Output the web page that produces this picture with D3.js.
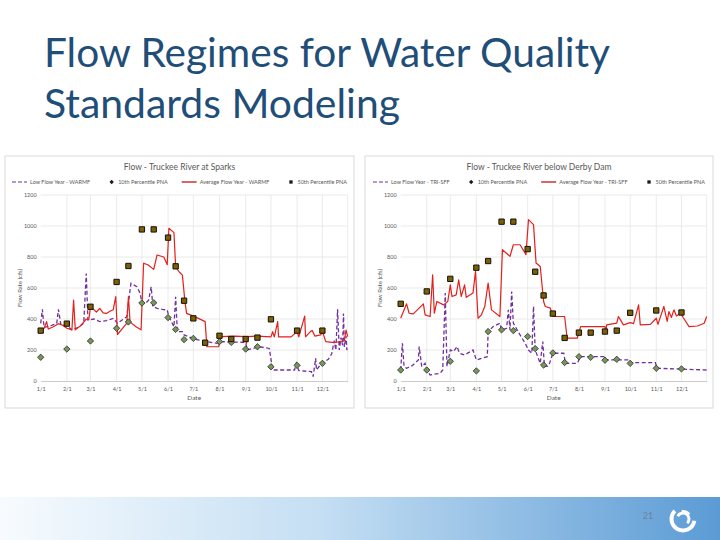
<!DOCTYPE html>
<html><head><meta charset="utf-8">
<script src="https://cdn.jsdelivr.net/npm/d3@7"></script>
<style>html,body{margin:0;padding:0;background:#fff}svg{display:block}</style>
</head><body><svg id="c" width="720" height="540"></svg>
<script>
// ---------- DATA ----------
const slideTitle = ["Flow Regimes for Water Quality", "Standards Modeling"];
const pageNumber = "21";
const monthTicks = ["01-01","02-01","03-01","04-01","05-01","06-01","07-01","08-01","09-01","10-01","11-01","12-01"];
const monthLabels = ["1/1","2/1","3/1","4/1","5/1","6/1","7/1","8/1","9/1","10/1","11/1","12/1"];
const yTicks = [0,200,400,600,800,1000,1200];

// Chart 1: Truckee River at Sparks
const sparksTitle = "Flow - Truckee River at Sparks";
const sparksLegend = ["Low Flow Year - WARMF","10th Percentile PNA","Average Flow Year - WARMF","50th Percentile PNA"];
const sparksLow = [["01-01",372],["01-03",462],["01-05",345],["01-12",355],["01-20",372],["01-22",462],["01-25",361],["01-31",361],["02-07",330],["02-14",345],["02-21",372],["02-24",694],["02-26",393],["03-05",400],["03-12",383],["03-20",390],["03-28",404],["04-02",372],["04-08",395],["04-13",415],["04-18",630],["04-25",608],["04-29",565],["05-01",500],["05-06",505],["05-09",522],["05-12",608],["05-14",480],["05-19",469],["05-25",462],["05-31",458],["06-02",415],["06-08",350],["06-10",544],["06-12",318],["06-18",318],["06-20",297],["07-02",271],["07-17",254],["07-29",243],["08-02",254],["09-01",249],["09-03",200],["09-17",221],["09-29",210],["10-03",71],["10-29",71],["10-31",114],["11-03",67],["11-18",60],["11-20",28],["11-23",146],["11-24",71],["11-30",114],["12-08",140],["12-12",175],["12-15",260],["12-17",200],["12-19",462],["12-21",200],["12-23",280],["12-25",230],["12-26",436],["12-27",220],["12-29",290],["12-30",200],["12-31",221]];
const sparksAvg = [["01-01",320],["01-05",340],["01-08",383],["01-10",335],["01-16",350],["01-22",370],["01-27",360],["02-01",340],["02-07",330],["02-09",522],["02-11",330],["02-18",360],["02-24",400],["02-27",395],["03-01",480],["03-04",465],["03-08",445],["03-12",469],["03-16",440],["03-20",436],["03-24",450],["03-28",460],["03-31",544],["04-02",300],["04-08",340],["04-13",372],["04-15",544],["04-17",380],["04-24",350],["04-30",330],["05-03",760],["05-08",750],["05-15",720],["05-19",813],["05-27",800],["05-31",750],["06-02",985],["06-08",957],["06-10",737],["06-14",705],["06-18",683],["06-21",512],["06-23",436],["06-28",425],["07-07",404],["07-15",383],["07-17",221],["07-31",221],["08-02",286],["08-20",290],["09-01",286],["09-02",243],["09-03",286],["09-15",290],["10-01",285],["10-03",318],["10-05",285],["10-09",383],["10-10",285],["10-25",285],["11-01",320],["11-03",285],["11-10",419],["11-11",285],["11-17",320],["11-19",325],["11-22",290],["11-29",297],["12-01",320],["12-05",254],["12-15",247],["12-27",260],["12-29",329],["12-31",286]];
const sparksP10 = [["01-01",153],["02-01",206],["03-01",258],["04-01",340],["04-15",381],["05-01",503],["05-15",505],["06-01",409],["06-10",333],["06-20",267],["07-01",275],["08-01",254],["08-15",249],["09-01",206],["09-15",221],["10-01",92],["11-01",101],["12-01",114]];
const sparksP50 = [["01-01",325],["02-01",370],["03-01",479],["04-01",639],["04-15",742],["05-01",978],["05-15",978],["06-01",925],["06-10",740],["06-20",518],["07-01",404],["07-15",247],["08-01",292],["08-15",271],["09-01",271],["09-15",280],["10-01",398],["11-01",325],["12-01",325]];

// Chart 2: Truckee River below Derby Dam
const derbyTitle = "Flow - Truckee River below Derby Dam";
const derbyLegend = ["Low Flow Year - TRI-SFF","10th Percentile PNA","Average Flow Year - TRI-SFF","50th Percentile PNA"];
const derbyLow = [["01-01",71],["01-03",244],["01-05",93],["01-08",82],["01-15",100],["01-22",136],["01-23",222],["01-26",93],["01-30",114],["02-01",71],["02-05",39],["02-17",50],["02-20",71],["02-23",567],["02-25",93],["03-01",200],["03-05",190],["03-09",222],["03-12",179],["03-18",168],["03-28",200],["04-01",136],["04-14",157],["04-15",319],["04-21",351],["04-29",373],["05-01",330],["05-07",340],["05-09",459],["05-11",330],["05-13",578],["05-15",373],["05-23",297],["05-29",244],["06-02",200],["06-06",179],["06-08",481],["06-10",200],["06-16",114],["06-19",254],["06-21",93],["06-26",97],["07-01",179],["07-14",179],["07-16",114],["07-30",114],["08-03",157],["08-31",157],["09-02",136],["09-30",136],["10-01",118],["10-31",118],["11-02",82],["12-31",71]];
const derbyAvg = [["01-01",405],["01-08",498],["01-11",437],["01-16",433],["01-28",498],["01-30",427],["02-05",416],["02-08",685],["02-10",437],["02-13",513],["02-21",491],["02-26",513],["03-01",620],["03-03",545],["03-08",556],["03-11",653],["03-14",545],["03-18",620],["03-20",540],["03-28",567],["03-31",707],["04-03",405],["04-07",427],["04-11",480],["04-15",631],["04-19",459],["04-29",416],["05-02",847],["05-11",804],["05-15",879],["05-23",879],["05-30",815],["06-02",1041],["06-08",1009],["06-11",761],["06-16",739],["06-20",513],["06-22",481],["06-28",470],["07-01",416],["07-15",416],["07-18",276],["07-30",276],["08-03",351],["09-01",351],["09-02",319],["09-03",362],["09-15",373],["09-17",416],["09-23",362],["10-01",377],["10-05",370],["10-11",491],["10-13",362],["10-25",365],["11-01",405],["11-03",365],["11-10",481],["11-14",384],["11-16",448],["11-19",410],["11-22",459],["11-25",420],["11-30",437],["12-03",410],["12-10",351],["12-20",355],["12-28",373],["12-31",416]];
const derbyP10 = [["01-01",71],["02-01",71],["03-01",127],["04-01",65],["04-15",319],["05-01",330],["05-15",325],["06-01",287],["06-10",209],["06-20",103],["07-01",181],["07-15",119],["08-01",157],["08-15",153],["09-01",134],["09-15",140],["10-01",114],["11-01",82],["12-01",78]];
const derbyP50 = [["01-01",498],["02-01",578],["03-01",659],["04-01",731],["04-15",774],["05-01",1028],["05-15",1028],["06-01",851],["06-10",705],["06-20",552],["07-01",435],["07-15",278],["08-01",312],["08-15",312],["09-01",319],["09-15",325],["10-01",440],["11-01",455],["12-01",442]];

// ---------- DRAW ----------
const svg = d3.select("#c");
const parse = s => d3.timeParse("%Y-%m-%d")("2001-" + s);
const FONT = "Lato, 'Open Sans', sans-serif";

// bottom band
const defs = svg.append("defs");
const grad = defs.append("linearGradient").attr("id","band").attr("x1","0").attr("x2","1").attr("y1","0").attr("y2","0");
grad.append("stop").attr("offset","0").attr("stop-color","#f7fbfe");
grad.append("stop").attr("offset","0.45").attr("stop-color","#c4def3");
grad.append("stop").attr("offset","1").attr("stop-color","#5b9bd5");
svg.append("rect").attr("x",0).attr("y",497).attr("width",720).attr("height",43).attr("fill","url(#band)");

// title
slideTitle.forEach((t,i)=>{
  svg.append("text").attr("x",44).attr("y",67 + i*51)
    .attr("font-family","Lato, 'Open Sans', sans-serif").attr("font-weight",400)
    .attr("font-size",40).attr("fill","#1f4e79")
    .attr("textLength", i===0 ? 566 : 356).attr("lengthAdjust","spacingAndGlyphs")
    .text(t);
});

// page number and logo
svg.append("text").attr("x",648).attr("y",519).attr("text-anchor","middle")
  .attr("font-family",FONT).attr("font-size",9).attr("fill","#6f8296").text(pageNumber);
const logo = svg.append("g").attr("transform","translate(683,519)");
const arc = d3.arc();
logo.append("path").attr("fill","#fff").attr("d", arc({innerRadius:9.5,outerRadius:13.5,startAngle:Math.PI*0.55,endAngle:Math.PI*1.75}));
logo.append("path").attr("fill","#fff").attr("d", arc({innerRadius:4.5,outerRadius:7.5,startAngle:-Math.PI*0.35,endAngle:Math.PI*0.75}));
logo.append("path").attr("fill","#fff").attr("d", arc({innerRadius:6,outerRadius:9,startAngle:Math.PI*1.95,endAngle:Math.PI*2.3}));

function drawChart(cfg, title, legend, low, avg, p10, p50) {
  const g = svg.append("g");
  g.append("rect").attr("x",cfg.bx0).attr("y",156).attr("width",cfg.bx1-cfg.bx0).attr("height",252)
    .attr("fill","#fff").attr("stroke","#d9d9d9").attr("stroke-width",1);
  const x = d3.scaleTime().domain([parse("01-01"), parse("12-31")]).range([cfg.px0, cfg.px1]);
  const y = d3.scaleLinear().domain([0,1200]).range([381,195]);
  // gridlines
  g.append("g").selectAll("line").data(yTicks.slice(1)).join("line")
    .attr("x1",cfg.px0).attr("x2",cfg.px1).attr("y1",d=>y(d)).attr("y2",d=>y(d))
    .attr("stroke","#e3e3e3").attr("stroke-width",0.8);
  g.append("g").selectAll("line").data(monthTicks.slice(1).map(parse).concat([parse("12-31")])).join("line")
    .attr("x1",d=>x(d)).attr("x2",d=>x(d)).attr("y1",195).attr("y2",381)
    .attr("stroke","#e6e6e6").attr("stroke-width",0.8);
  // axes
  const xa = g.append("g").attr("transform","translate(0,381)")
    .call(d3.axisBottom(x).tickValues(monthTicks.map(parse)).tickSize(0).tickPadding(6)
      .tickFormat((d,i)=>monthLabels[i]));
  xa.select(".domain").attr("stroke","#bfbfbf").attr("stroke-width",0.8);
  xa.selectAll("text").attr("font-family",FONT).attr("font-size",5.5).attr("fill","#595959");
  const ya = g.append("g").attr("transform",`translate(${cfg.px0},0)`)
    .call(d3.axisLeft(y).tickValues(yTicks).tickSize(0).tickPadding(4).tickFormat(d3.format("d")));
  ya.select(".domain").remove();
  ya.selectAll("text").attr("font-family",FONT).attr("font-size",5.5).attr("fill","#595959");
  // axis titles
  g.append("text").attr("x",(cfg.px0+cfg.px1)/2).attr("y",400).attr("text-anchor","middle")
    .attr("font-family",FONT).attr("font-size",6.5).attr("fill","#595959").text("Date");
  g.append("text").attr("transform",`translate(${cfg.px0-19},288) rotate(-90)`).attr("text-anchor","middle")
    .attr("font-family",FONT).attr("font-size",6).attr("fill","#595959").text("Flow Rate (cfs)");
  // chart title
  g.append("text").attr("x",(cfg.bx0+cfg.bx1)/2).attr("y",170).attr("text-anchor","middle")
    .attr("font-family",FONT).attr("font-size",8.5).attr("fill","#595959").text(title);
  // lines
  const line = d3.line().x(d=>x(parse(d[0]))).y(d=>y(d[1]));
  g.append("path").attr("d",line(low)).attr("fill","none").attr("stroke","#7030a0")
    .attr("stroke-width",1.3).attr("stroke-dasharray","4,2.5");
  g.append("path").attr("d",line(avg)).attr("fill","none").attr("stroke","#e3201b")
    .attr("stroke-width",1.2).attr("stroke-linejoin","round");
  // markers
  const sym = d3.symbol();
  g.append("g").selectAll("path").data(p10).join("path")
    .attr("transform",d=>`translate(${x(parse(d[0]))},${y(d[1])})`)
    .attr("d", sym.type(d3.symbolDiamond2).size(26)())
    .attr("fill","#76975a").attr("stroke","#1a1a1a").attr("stroke-width",0.7);
  g.append("g").selectAll("path").data(p50).join("path")
    .attr("transform",d=>`translate(${x(parse(d[0]))},${y(d[1])})`)
    .attr("d", sym.type(d3.symbolSquare2).size(36)())
    .attr("fill","#7f6000").attr("stroke","#111").attr("stroke-width",1);
  // legend
  const lg = g.append("g").attr("transform","translate(0,182)");
  let cx = 0;
  legend.forEach((t,i)=>{
    const it = lg.append("g");
    if (i===0) it.append("line").attr("x1",0).attr("x2",15).attr("stroke","#7030a0").attr("stroke-width",1.2).attr("stroke-dasharray","4,2");
    if (i===2) it.append("line").attr("x1",0).attr("x2",15).attr("stroke","#c00000").attr("stroke-width",1.2);
    if (i===1) it.append("path").attr("transform","translate(7.5,0)").attr("d",d3.symbol().type(d3.symbolDiamond2).size(12)()).attr("fill","#1a1a1a");
    if (i===3) it.append("path").attr("transform","translate(7.5,0)").attr("d",d3.symbol().type(d3.symbolSquare2).size(14)()).attr("fill","#1a1a1a");
    const tx = it.append("text").attr("x",i%2===0?18:14).attr("y",2).attr("font-family",FONT).attr("font-size",5.5).attr("fill","#595959").text(t);
    const w = (i%2===0?18:14) + tx.node().getComputedTextLength();
    it.attr("transform",`translate(${cx},0)`);
    cx += w + 14;
  });
  const total = cx - 14;
  lg.attr("transform",`translate(${(cfg.bx0+cfg.bx1)/2 - total/2},182)`);
}

drawChart({bx0:5,bx1:354,px0:40.7,px1:347.7}, sparksTitle, sparksLegend, sparksLow, sparksAvg, sparksP10, sparksP50);
drawChart({bx0:365,bx1:713,px0:400.7,px1:706.7}, derbyTitle, derbyLegend, derbyLow, derbyAvg, derbyP10, derbyP50);
</script></body></html>
